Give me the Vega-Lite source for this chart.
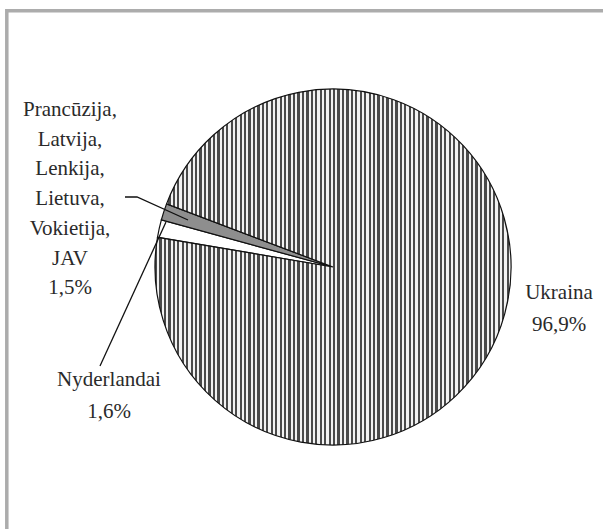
{
  "$schema": "https://vega.github.io/schema/vega-lite/v6.json",
  "width": 603,
  "height": 529,
  "padding": 0,
  "autosize": {"type": "none"},
  "background": "white",
  "config": {"view": {"stroke": null}},
  "datasets": {
    "pie": [
      {"land": "Nyderlandai", "share": 1.6, "o": 1},
      {"land": "Prancūzija, Latvija, Lenkija, Lietuva, Vokietija, JAV", "share": 1.5, "o": 2},
      {"land": "Ukraina", "share": 96.9, "o": 3}
    ],
    "lab1": [
      {"t": ["Prancūzija,", "Latvija,", "Lenkija,", "Lietuva,", "Vokietija,", "JAV", "1,5%"], "x": 70, "y": 110}
    ],
    "lab2": [
      {"t": ["Ukraina", "96,9%"], "x": 559, "y": 293},
      {"t": ["Nyderlandai", "1,6%"], "x": 109, "y": 380}
    ],
    "leaders": [
      {"g": "a", "i": 1, "x": 125, "y": 197},
      {"g": "a", "i": 2, "x": 137, "y": 197},
      {"g": "a", "i": 3, "x": 188, "y": 220},
      {"g": "b", "i": 1, "x": 100, "y": 366},
      {"g": "b", "i": 2, "x": 166, "y": 222}
    ]
  },
  "layer": [
    {
      "data": {"values": [{}]},
      "mark": {"type": "rect", "fill": null, "stroke": "#acacac", "strokeWidth": 3.5},
      "encoding": {
        "x": {"datum": 6.8, "type": "quantitative", "scale": {"domain": [0, 603], "nice": false, "zero": false}, "axis": null},
        "x2": {"datum": 700},
        "y": {"datum": 10.8, "type": "quantitative", "scale": {"domain": [0, 529], "nice": false, "zero": false, "reverse": true}, "axis": null},
        "y2": {"datum": 700}
      }
    },
    {
      "data": {"name": "pie"},
      "mark": {"type": "arc", "radius": 178, "stroke": "#111111", "strokeWidth": 1.2},
      "encoding": {
        "x": {"datum": 333, "type": "quantitative", "scale": {"domain": [0, 603], "nice": false, "zero": false}, "axis": null},
        "y": {"datum": 267, "type": "quantitative", "scale": {"domain": [0, 529], "nice": false, "zero": false, "reverse": true}, "axis": null},
        "theta": {"field": "share", "type": "quantitative", "stack": true, "scale": {"range": [4.88, 11.1632]}},
        "order": {"field": "o", "type": "quantitative"},
        "fill": {
          "condition": [
            {"test": "datum.o == 3", "value": {"gradient": "linear", "x1": 0, "y1": 0, "x2": 1, "y2": 0, "stops": [
{"offset":0,"color":"#4a4a4a"},{"offset":0.00625,"color":"#4a4a4a"},{"offset":0.00625,"color":"#f2f2f2"},{"offset":0.0125,"color":"#f2f2f2"},
{"offset":0.0125,"color":"#4a4a4a"},{"offset":0.01875,"color":"#4a4a4a"},{"offset":0.01875,"color":"#f2f2f2"},{"offset":0.025,"color":"#f2f2f2"},
{"offset":0.025,"color":"#4a4a4a"},{"offset":0.03125,"color":"#4a4a4a"},{"offset":0.03125,"color":"#f2f2f2"},{"offset":0.0375,"color":"#f2f2f2"},
{"offset":0.0375,"color":"#4a4a4a"},{"offset":0.04375,"color":"#4a4a4a"},{"offset":0.04375,"color":"#f2f2f2"},{"offset":0.05,"color":"#f2f2f2"},
{"offset":0.05,"color":"#4a4a4a"},{"offset":0.05625,"color":"#4a4a4a"},{"offset":0.05625,"color":"#f2f2f2"},{"offset":0.0625,"color":"#f2f2f2"},
{"offset":0.0625,"color":"#4a4a4a"},{"offset":0.06875,"color":"#4a4a4a"},{"offset":0.06875,"color":"#f2f2f2"},{"offset":0.075,"color":"#f2f2f2"},
{"offset":0.075,"color":"#4a4a4a"},{"offset":0.08125,"color":"#4a4a4a"},{"offset":0.08125,"color":"#f2f2f2"},{"offset":0.0875,"color":"#f2f2f2"},
{"offset":0.0875,"color":"#4a4a4a"},{"offset":0.09375,"color":"#4a4a4a"},{"offset":0.09375,"color":"#f2f2f2"},{"offset":0.1,"color":"#f2f2f2"},
{"offset":0.1,"color":"#4a4a4a"},{"offset":0.10625,"color":"#4a4a4a"},{"offset":0.10625,"color":"#f2f2f2"},{"offset":0.1125,"color":"#f2f2f2"},
{"offset":0.1125,"color":"#4a4a4a"},{"offset":0.11875,"color":"#4a4a4a"},{"offset":0.11875,"color":"#f2f2f2"},{"offset":0.125,"color":"#f2f2f2"},
{"offset":0.125,"color":"#4a4a4a"},{"offset":0.13125,"color":"#4a4a4a"},{"offset":0.13125,"color":"#f2f2f2"},{"offset":0.1375,"color":"#f2f2f2"},
{"offset":0.1375,"color":"#4a4a4a"},{"offset":0.14375,"color":"#4a4a4a"},{"offset":0.14375,"color":"#f2f2f2"},{"offset":0.15,"color":"#f2f2f2"},
{"offset":0.15,"color":"#4a4a4a"},{"offset":0.15625,"color":"#4a4a4a"},{"offset":0.15625,"color":"#f2f2f2"},{"offset":0.1625,"color":"#f2f2f2"},
{"offset":0.1625,"color":"#4a4a4a"},{"offset":0.16875,"color":"#4a4a4a"},{"offset":0.16875,"color":"#f2f2f2"},{"offset":0.175,"color":"#f2f2f2"},
{"offset":0.175,"color":"#4a4a4a"},{"offset":0.18125,"color":"#4a4a4a"},{"offset":0.18125,"color":"#f2f2f2"},{"offset":0.1875,"color":"#f2f2f2"},
{"offset":0.1875,"color":"#4a4a4a"},{"offset":0.19375,"color":"#4a4a4a"},{"offset":0.19375,"color":"#f2f2f2"},{"offset":0.2,"color":"#f2f2f2"},
{"offset":0.2,"color":"#4a4a4a"},{"offset":0.20625,"color":"#4a4a4a"},{"offset":0.20625,"color":"#f2f2f2"},{"offset":0.2125,"color":"#f2f2f2"},
{"offset":0.2125,"color":"#4a4a4a"},{"offset":0.21875,"color":"#4a4a4a"},{"offset":0.21875,"color":"#f2f2f2"},{"offset":0.225,"color":"#f2f2f2"},
{"offset":0.225,"color":"#4a4a4a"},{"offset":0.23125,"color":"#4a4a4a"},{"offset":0.23125,"color":"#f2f2f2"},{"offset":0.2375,"color":"#f2f2f2"},
{"offset":0.2375,"color":"#4a4a4a"},{"offset":0.24375,"color":"#4a4a4a"},{"offset":0.24375,"color":"#f2f2f2"},{"offset":0.25,"color":"#f2f2f2"},
{"offset":0.25,"color":"#4a4a4a"},{"offset":0.25625,"color":"#4a4a4a"},{"offset":0.25625,"color":"#f2f2f2"},{"offset":0.2625,"color":"#f2f2f2"},
{"offset":0.2625,"color":"#4a4a4a"},{"offset":0.26875,"color":"#4a4a4a"},{"offset":0.26875,"color":"#f2f2f2"},{"offset":0.275,"color":"#f2f2f2"},
{"offset":0.275,"color":"#4a4a4a"},{"offset":0.28125,"color":"#4a4a4a"},{"offset":0.28125,"color":"#f2f2f2"},{"offset":0.2875,"color":"#f2f2f2"},
{"offset":0.2875,"color":"#4a4a4a"},{"offset":0.29375,"color":"#4a4a4a"},{"offset":0.29375,"color":"#f2f2f2"},{"offset":0.3,"color":"#f2f2f2"},
{"offset":0.3,"color":"#4a4a4a"},{"offset":0.30625,"color":"#4a4a4a"},{"offset":0.30625,"color":"#f2f2f2"},{"offset":0.3125,"color":"#f2f2f2"},
{"offset":0.3125,"color":"#4a4a4a"},{"offset":0.31875,"color":"#4a4a4a"},{"offset":0.31875,"color":"#f2f2f2"},{"offset":0.325,"color":"#f2f2f2"},
{"offset":0.325,"color":"#4a4a4a"},{"offset":0.33125,"color":"#4a4a4a"},{"offset":0.33125,"color":"#f2f2f2"},{"offset":0.3375,"color":"#f2f2f2"},
{"offset":0.3375,"color":"#4a4a4a"},{"offset":0.34375,"color":"#4a4a4a"},{"offset":0.34375,"color":"#f2f2f2"},{"offset":0.35,"color":"#f2f2f2"},
{"offset":0.35,"color":"#4a4a4a"},{"offset":0.35625,"color":"#4a4a4a"},{"offset":0.35625,"color":"#f2f2f2"},{"offset":0.3625,"color":"#f2f2f2"},
{"offset":0.3625,"color":"#4a4a4a"},{"offset":0.36875,"color":"#4a4a4a"},{"offset":0.36875,"color":"#f2f2f2"},{"offset":0.375,"color":"#f2f2f2"},
{"offset":0.375,"color":"#4a4a4a"},{"offset":0.38125,"color":"#4a4a4a"},{"offset":0.38125,"color":"#f2f2f2"},{"offset":0.3875,"color":"#f2f2f2"},
{"offset":0.3875,"color":"#4a4a4a"},{"offset":0.39375,"color":"#4a4a4a"},{"offset":0.39375,"color":"#f2f2f2"},{"offset":0.4,"color":"#f2f2f2"},
{"offset":0.4,"color":"#4a4a4a"},{"offset":0.40625,"color":"#4a4a4a"},{"offset":0.40625,"color":"#f2f2f2"},{"offset":0.4125,"color":"#f2f2f2"},
{"offset":0.4125,"color":"#4a4a4a"},{"offset":0.41875,"color":"#4a4a4a"},{"offset":0.41875,"color":"#f2f2f2"},{"offset":0.425,"color":"#f2f2f2"},
{"offset":0.425,"color":"#4a4a4a"},{"offset":0.43125,"color":"#4a4a4a"},{"offset":0.43125,"color":"#f2f2f2"},{"offset":0.4375,"color":"#f2f2f2"},
{"offset":0.4375,"color":"#4a4a4a"},{"offset":0.44375,"color":"#4a4a4a"},{"offset":0.44375,"color":"#f2f2f2"},{"offset":0.45,"color":"#f2f2f2"},
{"offset":0.45,"color":"#4a4a4a"},{"offset":0.45625,"color":"#4a4a4a"},{"offset":0.45625,"color":"#f2f2f2"},{"offset":0.4625,"color":"#f2f2f2"},
{"offset":0.4625,"color":"#4a4a4a"},{"offset":0.46875,"color":"#4a4a4a"},{"offset":0.46875,"color":"#f2f2f2"},{"offset":0.475,"color":"#f2f2f2"},
{"offset":0.475,"color":"#4a4a4a"},{"offset":0.48125,"color":"#4a4a4a"},{"offset":0.48125,"color":"#f2f2f2"},{"offset":0.4875,"color":"#f2f2f2"},
{"offset":0.4875,"color":"#4a4a4a"},{"offset":0.49375,"color":"#4a4a4a"},{"offset":0.49375,"color":"#f2f2f2"},{"offset":0.5,"color":"#f2f2f2"},
{"offset":0.5,"color":"#4a4a4a"},{"offset":0.50625,"color":"#4a4a4a"},{"offset":0.50625,"color":"#f2f2f2"},{"offset":0.5125,"color":"#f2f2f2"},
{"offset":0.5125,"color":"#4a4a4a"},{"offset":0.51875,"color":"#4a4a4a"},{"offset":0.51875,"color":"#f2f2f2"},{"offset":0.525,"color":"#f2f2f2"},
{"offset":0.525,"color":"#4a4a4a"},{"offset":0.53125,"color":"#4a4a4a"},{"offset":0.53125,"color":"#f2f2f2"},{"offset":0.5375,"color":"#f2f2f2"},
{"offset":0.5375,"color":"#4a4a4a"},{"offset":0.54375,"color":"#4a4a4a"},{"offset":0.54375,"color":"#f2f2f2"},{"offset":0.55,"color":"#f2f2f2"},
{"offset":0.55,"color":"#4a4a4a"},{"offset":0.55625,"color":"#4a4a4a"},{"offset":0.55625,"color":"#f2f2f2"},{"offset":0.5625,"color":"#f2f2f2"},
{"offset":0.5625,"color":"#4a4a4a"},{"offset":0.56875,"color":"#4a4a4a"},{"offset":0.56875,"color":"#f2f2f2"},{"offset":0.575,"color":"#f2f2f2"},
{"offset":0.575,"color":"#4a4a4a"},{"offset":0.58125,"color":"#4a4a4a"},{"offset":0.58125,"color":"#f2f2f2"},{"offset":0.5875,"color":"#f2f2f2"},
{"offset":0.5875,"color":"#4a4a4a"},{"offset":0.59375,"color":"#4a4a4a"},{"offset":0.59375,"color":"#f2f2f2"},{"offset":0.6,"color":"#f2f2f2"},
{"offset":0.6,"color":"#4a4a4a"},{"offset":0.60625,"color":"#4a4a4a"},{"offset":0.60625,"color":"#f2f2f2"},{"offset":0.6125,"color":"#f2f2f2"},
{"offset":0.6125,"color":"#4a4a4a"},{"offset":0.61875,"color":"#4a4a4a"},{"offset":0.61875,"color":"#f2f2f2"},{"offset":0.625,"color":"#f2f2f2"},
{"offset":0.625,"color":"#4a4a4a"},{"offset":0.63125,"color":"#4a4a4a"},{"offset":0.63125,"color":"#f2f2f2"},{"offset":0.6375,"color":"#f2f2f2"},
{"offset":0.6375,"color":"#4a4a4a"},{"offset":0.64375,"color":"#4a4a4a"},{"offset":0.64375,"color":"#f2f2f2"},{"offset":0.65,"color":"#f2f2f2"},
{"offset":0.65,"color":"#4a4a4a"},{"offset":0.65625,"color":"#4a4a4a"},{"offset":0.65625,"color":"#f2f2f2"},{"offset":0.6625,"color":"#f2f2f2"},
{"offset":0.6625,"color":"#4a4a4a"},{"offset":0.66875,"color":"#4a4a4a"},{"offset":0.66875,"color":"#f2f2f2"},{"offset":0.675,"color":"#f2f2f2"},
{"offset":0.675,"color":"#4a4a4a"},{"offset":0.68125,"color":"#4a4a4a"},{"offset":0.68125,"color":"#f2f2f2"},{"offset":0.6875,"color":"#f2f2f2"},
{"offset":0.6875,"color":"#4a4a4a"},{"offset":0.69375,"color":"#4a4a4a"},{"offset":0.69375,"color":"#f2f2f2"},{"offset":0.7,"color":"#f2f2f2"},
{"offset":0.7,"color":"#4a4a4a"},{"offset":0.70625,"color":"#4a4a4a"},{"offset":0.70625,"color":"#f2f2f2"},{"offset":0.7125,"color":"#f2f2f2"},
{"offset":0.7125,"color":"#4a4a4a"},{"offset":0.71875,"color":"#4a4a4a"},{"offset":0.71875,"color":"#f2f2f2"},{"offset":0.725,"color":"#f2f2f2"},
{"offset":0.725,"color":"#4a4a4a"},{"offset":0.73125,"color":"#4a4a4a"},{"offset":0.73125,"color":"#f2f2f2"},{"offset":0.7375,"color":"#f2f2f2"},
{"offset":0.7375,"color":"#4a4a4a"},{"offset":0.74375,"color":"#4a4a4a"},{"offset":0.74375,"color":"#f2f2f2"},{"offset":0.75,"color":"#f2f2f2"},
{"offset":0.75,"color":"#4a4a4a"},{"offset":0.75625,"color":"#4a4a4a"},{"offset":0.75625,"color":"#f2f2f2"},{"offset":0.7625,"color":"#f2f2f2"},
{"offset":0.7625,"color":"#4a4a4a"},{"offset":0.76875,"color":"#4a4a4a"},{"offset":0.76875,"color":"#f2f2f2"},{"offset":0.775,"color":"#f2f2f2"},
{"offset":0.775,"color":"#4a4a4a"},{"offset":0.78125,"color":"#4a4a4a"},{"offset":0.78125,"color":"#f2f2f2"},{"offset":0.7875,"color":"#f2f2f2"},
{"offset":0.7875,"color":"#4a4a4a"},{"offset":0.79375,"color":"#4a4a4a"},{"offset":0.79375,"color":"#f2f2f2"},{"offset":0.8,"color":"#f2f2f2"},
{"offset":0.8,"color":"#4a4a4a"},{"offset":0.80625,"color":"#4a4a4a"},{"offset":0.80625,"color":"#f2f2f2"},{"offset":0.8125,"color":"#f2f2f2"},
{"offset":0.8125,"color":"#4a4a4a"},{"offset":0.81875,"color":"#4a4a4a"},{"offset":0.81875,"color":"#f2f2f2"},{"offset":0.825,"color":"#f2f2f2"},
{"offset":0.825,"color":"#4a4a4a"},{"offset":0.83125,"color":"#4a4a4a"},{"offset":0.83125,"color":"#f2f2f2"},{"offset":0.8375,"color":"#f2f2f2"},
{"offset":0.8375,"color":"#4a4a4a"},{"offset":0.84375,"color":"#4a4a4a"},{"offset":0.84375,"color":"#f2f2f2"},{"offset":0.85,"color":"#f2f2f2"},
{"offset":0.85,"color":"#4a4a4a"},{"offset":0.85625,"color":"#4a4a4a"},{"offset":0.85625,"color":"#f2f2f2"},{"offset":0.8625,"color":"#f2f2f2"},
{"offset":0.8625,"color":"#4a4a4a"},{"offset":0.86875,"color":"#4a4a4a"},{"offset":0.86875,"color":"#f2f2f2"},{"offset":0.875,"color":"#f2f2f2"},
{"offset":0.875,"color":"#4a4a4a"},{"offset":0.88125,"color":"#4a4a4a"},{"offset":0.88125,"color":"#f2f2f2"},{"offset":0.8875,"color":"#f2f2f2"},
{"offset":0.8875,"color":"#4a4a4a"},{"offset":0.89375,"color":"#4a4a4a"},{"offset":0.89375,"color":"#f2f2f2"},{"offset":0.9,"color":"#f2f2f2"},
{"offset":0.9,"color":"#4a4a4a"},{"offset":0.90625,"color":"#4a4a4a"},{"offset":0.90625,"color":"#f2f2f2"},{"offset":0.9125,"color":"#f2f2f2"},
{"offset":0.9125,"color":"#4a4a4a"},{"offset":0.91875,"color":"#4a4a4a"},{"offset":0.91875,"color":"#f2f2f2"},{"offset":0.925,"color":"#f2f2f2"},
{"offset":0.925,"color":"#4a4a4a"},{"offset":0.93125,"color":"#4a4a4a"},{"offset":0.93125,"color":"#f2f2f2"},{"offset":0.9375,"color":"#f2f2f2"},
{"offset":0.9375,"color":"#4a4a4a"},{"offset":0.94375,"color":"#4a4a4a"},{"offset":0.94375,"color":"#f2f2f2"},{"offset":0.95,"color":"#f2f2f2"},
{"offset":0.95,"color":"#4a4a4a"},{"offset":0.95625,"color":"#4a4a4a"},{"offset":0.95625,"color":"#f2f2f2"},{"offset":0.9625,"color":"#f2f2f2"},
{"offset":0.9625,"color":"#4a4a4a"},{"offset":0.96875,"color":"#4a4a4a"},{"offset":0.96875,"color":"#f2f2f2"},{"offset":0.975,"color":"#f2f2f2"},
{"offset":0.975,"color":"#4a4a4a"},{"offset":0.98125,"color":"#4a4a4a"},{"offset":0.98125,"color":"#f2f2f2"},{"offset":0.9875,"color":"#f2f2f2"},
{"offset":0.9875,"color":"#4a4a4a"},{"offset":0.99375,"color":"#4a4a4a"},{"offset":0.99375,"color":"#f2f2f2"},{"offset":1,"color":"#f2f2f2"}
            ]}},
            {"test": "datum.o == 2", "value": "#8e8e8e"}
          ],
          "value": "#ffffff"
        }
      }
    },
    {
      "data": {"name": "leaders"},
      "mark": {"type": "line", "stroke": "#111111", "strokeWidth": 1.3},
      "encoding": {
        "x": {"field": "x", "type": "quantitative", "scale": {"domain": [0, 603], "nice": false, "zero": false}, "axis": null},
        "y": {"field": "y", "type": "quantitative", "scale": {"domain": [0, 529], "nice": false, "zero": false, "reverse": true}, "axis": null},
        "detail": {"field": "g", "type": "nominal"},
        "order": {"field": "i", "type": "quantitative"}
      }
    },
    {
      "data": {"name": "lab1"},
      "mark": {"type": "text", "font": "'Liberation Serif', 'Times New Roman', 'DejaVu Serif', serif", "fontSize": 21, "lineHeight": 29.7, "align": "center", "baseline": "middle", "color": "#2a2a2a"},
      "encoding": {
        "x": {"field": "x", "type": "quantitative", "scale": {"domain": [0, 603], "nice": false, "zero": false}, "axis": null},
        "y": {"field": "y", "type": "quantitative", "scale": {"domain": [0, 529], "nice": false, "zero": false, "reverse": true}, "axis": null},
        "text": {"field": "t"}
      }
    },
    {
      "data": {"name": "lab2"},
      "mark": {"type": "text", "font": "'Liberation Serif', 'Times New Roman', 'DejaVu Serif', serif", "fontSize": 21, "lineHeight": 32, "align": "center", "baseline": "middle", "color": "#2a2a2a"},
      "encoding": {
        "x": {"field": "x", "type": "quantitative", "scale": {"domain": [0, 603], "nice": false, "zero": false}, "axis": null},
        "y": {"field": "y", "type": "quantitative", "scale": {"domain": [0, 529], "nice": false, "zero": false, "reverse": true}, "axis": null},
        "text": {"field": "t"}
      }
    }
  ]
}
